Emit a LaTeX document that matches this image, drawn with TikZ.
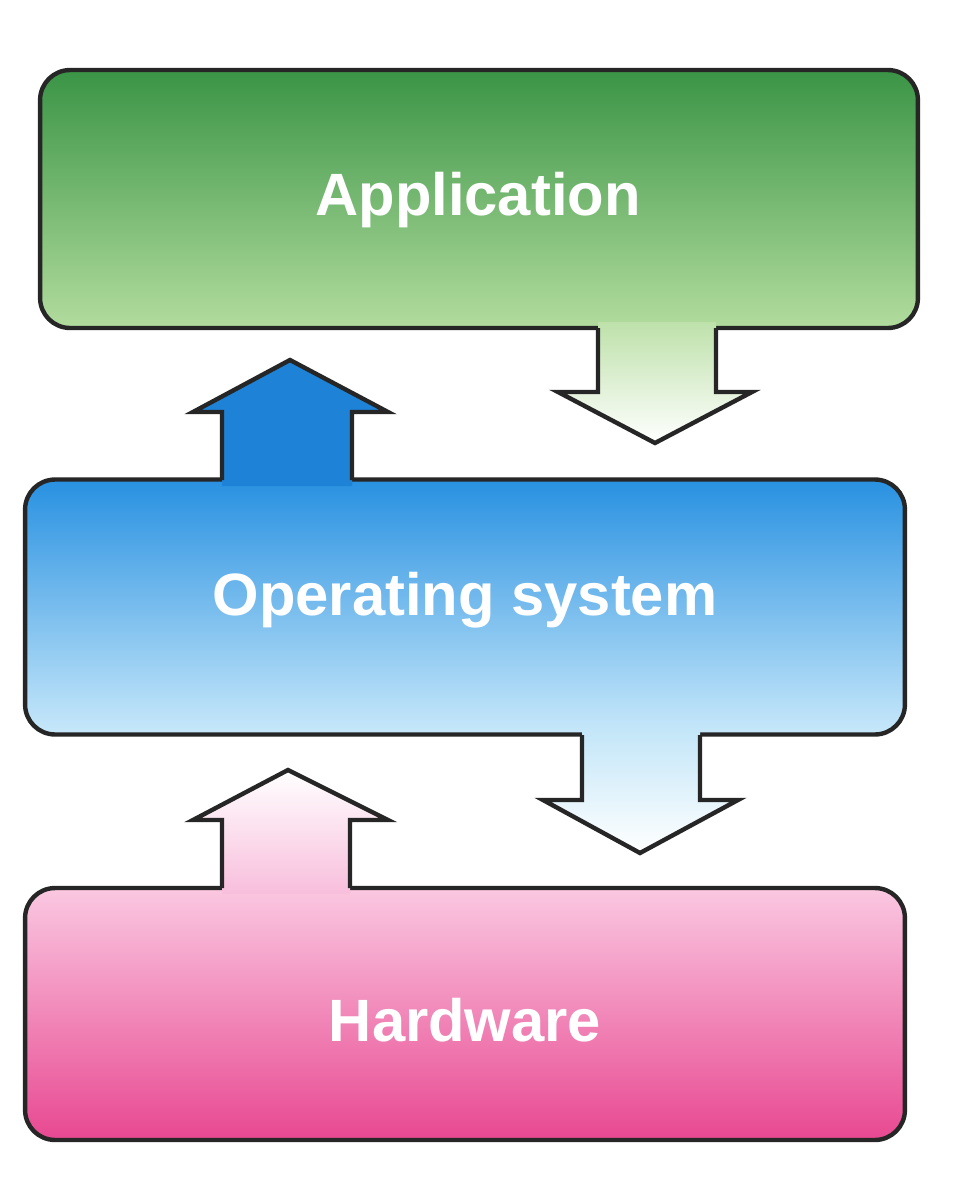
\documentclass[tikz,border=0pt]{standalone}
\usepackage{fontspec}
\setmainfont{Liberation Sans}
\definecolor{gtop}{RGB}{58,148,70}
\definecolor{gbot}{RGB}{178,220,158}
\definecolor{btop}{RGB}{40,145,225}
\definecolor{bbot}{RGB}{200,232,250}
\definecolor{ptop}{RGB}{250,200,225}
\definecolor{pbot}{RGB}{232,72,145}
\definecolor{garr}{RGB}{190,225,170}
\definecolor{barr}{RGB}{30,130,215}
\definecolor{lbarr}{RGB}{195,230,248}
\definecolor{parr}{RGB}{248,190,220}
\begin{document}
\begin{tikzpicture}[x=0.02cm,y=-0.02cm,
  layer/.style={draw=black!85,line width=2.5pt,rounded corners=0.6cm,inner sep=0pt},
  lbl/.style={text=white,font=\bfseries\fontsize{34}{40}\selectfont},
  outl/.style={draw=black!85,line width=2.5pt,line join=miter}]
\useasboundingbox (0,0) rectangle (957,1200);
\fill[white] (0,0) rectangle (957,1200);
% boxes
\node[layer,minimum width=17.56cm,minimum height=5.16cm,top color=gtop,bottom color=gbot] (app) at (479,199) {};
\node[layer,minimum width=17.6cm,minimum height=5.1cm,top color=btop,bottom color=bbot] (os) at (465,607) {};
\node[layer,minimum width=17.6cm,minimum height=5.04cm,top color=ptop,bottom color=pbot] (hw) at (465,1014) {};
% arrow app -> os
\shade[top color=garr,bottom color=white] (598,322) -- (598,392) -- (558,392) -- (655,443) -- (752,392) -- (716,392) -- (716,322) -- cycle;
\draw[outl] (598,328) -- (598,392) -- (558,392) -- (655,443) -- (752,392) -- (716,392) -- (716,328);
% arrow os -> app (up)
\fill[barr] (222,486) -- (222,412) -- (193,412) -- (290,360) -- (388,412) -- (352,412) -- (352,486) -- cycle;
\draw[outl] (222,480) -- (222,412) -- (193,412) -- (290,360) -- (388,412) -- (352,412) -- (352,480);
% arrow os -> hw
\shade[top color=lbarr,bottom color=white] (582,729) -- (582,800) -- (543,800) -- (640,853) -- (738,800) -- (700,800) -- (700,729) -- cycle;
\draw[outl] (582,735) -- (582,800) -- (543,800) -- (640,853) -- (738,800) -- (700,800) -- (700,735);
% arrow hw -> os (up)
\shade[top color=white,bottom color=parr] (222,894) -- (222,820) -- (193,820) -- (288,770) -- (388,820) -- (350,820) -- (350,894) -- cycle;
\draw[outl] (222,888) -- (222,820) -- (193,820) -- (288,770) -- (388,820) -- (350,820) -- (350,888);
% labels
\node[lbl] (tapp) at (478,200) {Application};
\node[lbl] (tos) at (465,600) {Operating system};
\node[lbl] (thw) at (465,1020) {Hardware};
\end{tikzpicture}
\end{document}
